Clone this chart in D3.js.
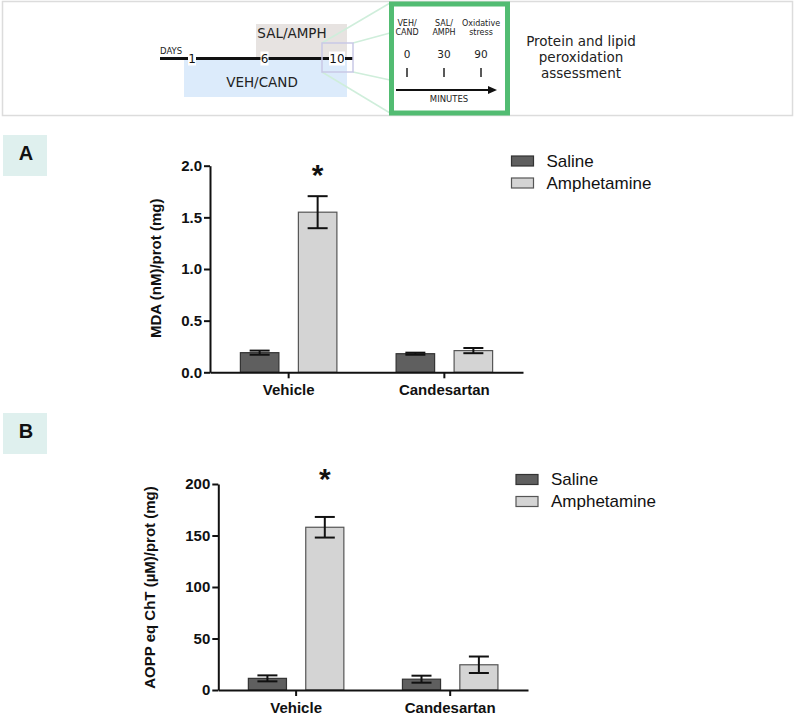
<!DOCTYPE html>
<html>
<head>
<meta charset="utf-8">
<script src="https://cdn.jsdelivr.net/npm/d3@7"></script>
<style>
  body { margin: 0; background: #fff; }
  svg { display: block; }
</style>
</head>
<body>
<svg id="fig" width="796" height="715"></svg>
<script>
(function() {
    // data
    const groups = ["Vehicle", "Candesartan"];
    const series = ["Saline", "Amphetamine"];
    const seriesFill = ["#5f5f5f", "#d4d4d4"];
    const seriesStroke = ["#333333", "#555555"];

    const mdaSaline = [0.19, 0.18];
    const mdaSalineErr = [0.02, 0.01];
    const mdaAmph = [1.55, 0.21];
    const mdaAmphErr = [0.155, 0.025];
    const mdaTicks = [0, 0.5, 1.0, 1.5, 2.0];

    const aoppSaline = [11.3, 10.5];
    const aoppSalineErr = [2.9, 3.4];
    const aoppAmph = [158, 24.5];
    const aoppAmphErr = [10, 8];
    const aoppTicks = [0, 50, 100, 150, 200];

    const dayTicks = [1, 6, 10];
    const minuteTicks = [0, 30, 90];
    const minuteLabels = [["VEH/", "CAND"], ["SAL/", "AMPH"], ["Oxidative", "stress"]];

    const svg = d3.select("#fig");
    const chartFont = "'Liberation Sans', Arial, Helvetica, sans-serif";
    const diagFont = "'DejaVu Sans', Verdana, sans-serif";

    // ---------- protocol diagram ----------
    const diag = svg.append("g");
    diag.append("rect")
        .attr("x", 2.5).attr("y", 1.5).attr("width", 790).attr("height", 114)
        .attr("fill", "#fff").attr("stroke", "#dcdcdc").attr("stroke-width", 1.5);

    const dayX = d3.scalePoint().domain(dayTicks).range([192, 337]);
    const lineY = 58.5;

    diag.append("rect")
        .attr("x", 256).attr("y", 24).attr("width", 91).attr("height", lineY - 24)
        .attr("fill", "#e7e3e1");
    diag.append("rect")
        .attr("x", 184).attr("y", lineY).attr("width", 163).attr("height", 97 - lineY)
        .attr("fill", "#dcebfb");

    diag.append("text").attr("x", 292).attr("y", 37.5)
        .attr("text-anchor", "middle").style("font", `13.5px ${diagFont}`).attr("fill", "#222")
        .text("SAL/AMPH");
    diag.append("text").attr("x", 262).attr("y", 87)
        .attr("text-anchor", "middle").style("font", `13.5px ${diagFont}`).attr("fill", "#222")
        .text("VEH/CAND");

    // light green zoom lines
    const zoomLines = [
        [322, 43, 390, 3], [353, 43, 390, 33],
        [322, 72, 390, 113], [353, 72, 390, 80]
    ];
    diag.selectAll("line.zl").data(zoomLines).enter().append("line")
        .attr("class", "zl")
        .attr("x1", d => d[0]).attr("y1", d => d[1])
        .attr("x2", d => d[2]).attr("y2", d => d[3])
        .attr("stroke", "#cfeedb").attr("stroke-width", 1.5);

    diag.append("line")
        .attr("x1", 160).attr("x2", 353).attr("y1", lineY).attr("y2", lineY)
        .attr("stroke", "#111").attr("stroke-width", 3);

    diag.append("text").attr("x", 160).attr("y", 54)
        .style("font", `8.5px ${diagFont}`).attr("fill", "#222").text("DAYS");

    const dayG = diag.selectAll("g.day").data(dayTicks).enter().append("g")
        .attr("class", "day")
        .attr("transform", d => `translate(${dayX(d)},${lineY})`);
    dayG.append("rect")
        .attr("x", d => d >= 10 ? -8 : -4).attr("y", -7)
        .attr("width", d => d >= 10 ? 16 : 8).attr("height", 14)
        .attr("fill", "#fff");
    dayG.append("text").attr("y", 4.5).attr("text-anchor", "middle")
        .style("font", `12px ${diagFont}`).attr("fill", "#111")
        .text(d => d);

    diag.append("rect")
        .attr("x", 322).attr("y", 43).attr("width", 31).attr("height", 29)
        .attr("fill", "none").attr("stroke", "#c9c9e6").attr("stroke-width", 1.5);

    // green detail box
    diag.append("rect")
        .attr("x", 391.5).attr("y", 4).attr("width", 116).attr("height", 109)
        .attr("fill", "#fff").attr("stroke", "#52bc72").attr("stroke-width", 5);

    const minX = d3.scalePoint().domain(minuteTicks).range([407, 481]);
    const minG = diag.selectAll("g.min").data(minuteTicks).enter().append("g")
        .attr("class", "min")
        .attr("transform", d => `translate(${minX(d)},0)`);
    minG.each(function(d, i) {
        const g = d3.select(this);
        minuteLabels[i].forEach((t, j) => {
            g.append("text").attr("y", 26 + j * 9).attr("text-anchor", "middle")
                .style("font", `8px ${diagFont}`).attr("fill", "#222").text(t);
        });
    });
    minG.append("text").attr("y", 57.5).attr("text-anchor", "middle")
        .style("font", `10.5px ${diagFont}`).attr("fill", "#222").text(d => d);
    minG.append("line").attr("y1", 68).attr("y2", 77)
        .attr("stroke", "#222").attr("stroke-width", 1.5);

    diag.append("line").attr("x1", 396).attr("x2", 490).attr("y1", 90).attr("y2", 90)
        .attr("stroke", "#111").attr("stroke-width", 2);
    diag.append("path").attr("d", "M488,86 L497,90 L488,94 Z").attr("fill", "#111");
    diag.append("text").attr("x", 449).attr("y", 101.5).attr("text-anchor", "middle")
        .style("font", `8.5px ${diagFont}`).attr("fill", "#222").text("MINUTES");

    ["Protein and lipid", "peroxidation", "assessment"].forEach((t, i) => {
        diag.append("text").attr("x", 581).attr("y", 45.7 + i * 16.3)
            .attr("text-anchor", "middle").style("font", `13.5px ${diagFont}`)
            .attr("fill", "#222").text(t);
    });

    // ---------- bar panels ----------
    function panel(opt) {
        const g = svg.append("g");

        // panel letter
        g.append("rect").attr("x", 3).attr("y", opt.tagY).attr("width", 44).attr("height", 41)
            .attr("fill", "#dff0ee");
        g.append("text").attr("x", 26).attr("y", opt.tagY + 24.5).attr("text-anchor", "middle")
            .style("font", `bold 20px ${chartFont}`).attr("fill", "#111").text(opt.tag);

        const y = d3.scaleLinear().domain([0, opt.yMax]).range([opt.y0, opt.y1]);
        const x = d3.scaleBand().domain(groups).range([opt.x0, opt.x1])
            .paddingInner(0.2).paddingOuter(0.105);
        const xs = d3.scaleBand().domain(series).range([0, x.bandwidth()])
            .paddingInner(0.336).paddingOuter(0.242);

        const rows = [];
        groups.forEach((grp, gi) => {
            series.forEach((s, si) => {
                rows.push({ grp, s, si, v: opt.values[si][gi], e: opt.errors[si][gi] });
            });
        });

        const bars = g.selectAll("g.bar").data(rows).enter().append("g")
            .attr("class", "bar")
            .attr("transform", d => `translate(${x(d.grp) + xs(d.s)},0)`);
        bars.append("rect")
            .attr("x", 0).attr("width", xs.bandwidth())
            .attr("y", d => y(d.v)).attr("height", d => y(0) - y(d.v))
            .attr("fill", d => seriesFill[d.si]).attr("stroke", d => seriesStroke[d.si])
            .attr("stroke-width", 1.2);

        const cx = xs.bandwidth() / 2;
        const cap = 10;
        bars.append("line").attr("x1", cx).attr("x2", cx)
            .attr("y1", d => y(d.v + d.e)).attr("y2", d => y(d.v - d.e))
            .attr("stroke", "#111").attr("stroke-width", 2);
        bars.append("line").attr("x1", cx - cap).attr("x2", cx + cap)
            .attr("y1", d => y(d.v + d.e)).attr("y2", d => y(d.v + d.e))
            .attr("stroke", "#111").attr("stroke-width", 2);
        bars.append("line").attr("x1", cx - cap).attr("x2", cx + cap)
            .attr("y1", d => y(d.v - d.e)).attr("y2", d => y(d.v - d.e))
            .attr("stroke", "#111").attr("stroke-width", 2);

        // significance star
        g.append("text")
            .attr("x", x(groups[0]) + xs(series[1]) + cx)
            .attr("y", opt.starY + 16)
            .attr("text-anchor", "middle")
            .style("font", `bold 30px ${chartFont}`).attr("fill", "#111").text("*");

        // axes
        const yAxis = g.append("g").attr("transform", `translate(${opt.x0},0)`)
            .call(d3.axisLeft(y).tickValues(opt.ticks).tickFormat(opt.fmt)
                .tickSize(6).tickSizeOuter(0).tickPadding(2));
        const xAxis = g.append("g").attr("transform", `translate(0,${opt.y0})`)
            .call(d3.axisBottom(x).tickSize(6).tickSizeOuter(0).tickPadding(6));
        [yAxis, xAxis].forEach(a => {
            a.select(".domain").attr("stroke", "#111").attr("stroke-width", 2);
            a.selectAll(".tick line").attr("stroke", "#111").attr("stroke-width", 2);
            a.selectAll(".tick text").style("font", `bold 15px ${chartFont}`).attr("fill", "#111");
        });

        g.append("text")
            .attr("transform", `translate(${opt.labelX},${opt.labelY}) rotate(-90)`)
            .attr("text-anchor", "middle")
            .style("font", `bold 15px ${chartFont}`).attr("fill", "#111")
            .text(opt.yLabel);

        // legend
        const leg = g.selectAll("g.leg").data(series).enter().append("g")
            .attr("class", "leg")
            .attr("transform", (d, i) => `translate(${opt.legX},${opt.legY + i * 22})`);
        leg.append("rect").attr("x", 0).attr("y", 0).attr("width", 22).attr("height", 10)
            .attr("fill", (d, i) => seriesFill[i]).attr("stroke", (d, i) => seriesStroke[i])
            .attr("stroke-width", 1.2);
        leg.append("text").attr("x", 35).attr("y", 10.5)
            .style("font", `17px ${chartFont}`).attr("fill", "#111").text(d => d);
    }

    panel({
        tag: "A", tagY: 135,
        yMax: 2, y0: 372.3, y1: 165.7, x0: 210, x1: 523,
        values: [mdaSaline, mdaAmph], errors: [mdaSalineErr, mdaAmphErr],
        ticks: mdaTicks, fmt: d3.format(".1f"),
        starY: 169, yLabel: "MDA (nM)/prot (mg)", labelX: 161, labelY: 268.3,
        legX: 511.5, legY: 156
    });

    panel({
        tag: "B", tagY: 413,
        yMax: 200, y0: 690, y1: 484, x0: 218.3, x1: 528,
        values: [aoppSaline, aoppAmph], errors: [aoppSalineErr, aoppAmphErr],
        ticks: aoppTicks, fmt: d3.format("d"),
        starY: 473, yLabel: "AOPP eq ChT (\u00B5M)/prot (mg)", labelX: 154.5, labelY: 587.5,
        legX: 516, legY: 474.5
    });
})();
</script>
</body>
</html>
